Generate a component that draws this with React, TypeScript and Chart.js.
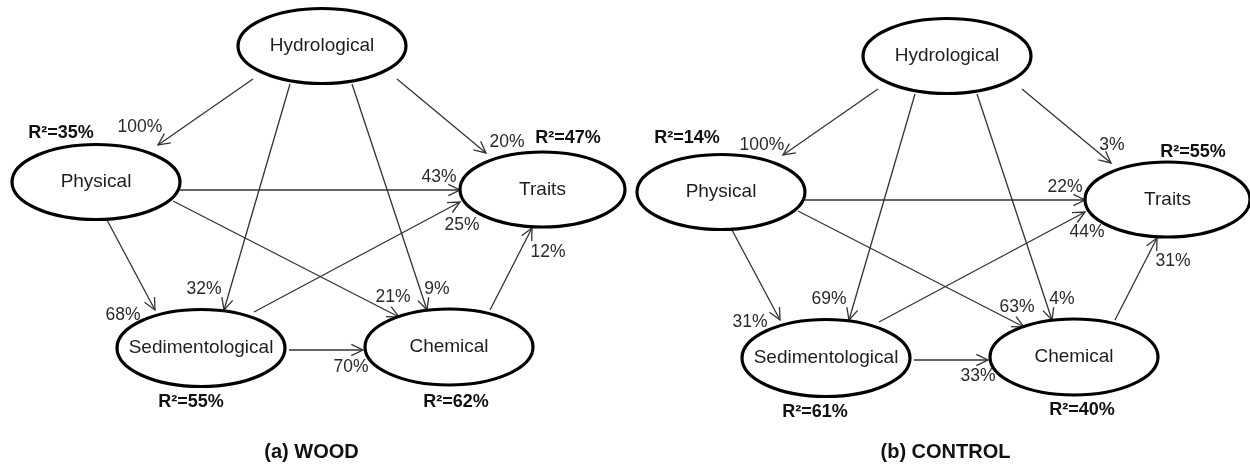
import React, { useEffect, useRef } from 'react';
import { Chart, registerables } from 'chart.js';

Chart.register(...registerables);

// ---------- DATA ----------
const nodeNames = ['Hydrological', 'Physical', 'Traits', 'Sedimentological', 'Chemical'];
const woodR2 = [null, 35, 47, 55, 62];
const controlR2 = [null, 14, 55, 61, 40];
const edgeFrom = ['Hydrological', 'Hydrological', 'Hydrological', 'Hydrological', 'Physical', 'Physical', 'Physical', 'Sedimentological', 'Sedimentological', 'Chemical'];
const edgeTo = ['Physical', 'Sedimentological', 'Chemical', 'Traits', 'Traits', 'Chemical', 'Sedimentological', 'Traits', 'Chemical', 'Traits'];
const woodEffects = [100, 32, 9, 20, 43, 21, 68, 25, 70, 12];
const controlEffects = [100, 69, 4, 3, 22, 63, 31, 44, 33, 31];
const panelTitles = ['(a) WOOD', '(b) CONTROL'];

// ---------- LAYOUT (diagram units) ----------
const nodeCenters = [[322, 46], [96, 182], [542.5, 189.5], [201, 348], [449, 347]];
const nodeRadii = [[84, 37.5], [84, 37.5], [82.5, 37.5], [84, 38.5], [84, 38]];
const edgeStart = [[253, 79], [290, 84], [352, 84], [397, 79], [180, 190], [173, 201], [107, 220], [254, 312], [289, 350], [490, 310]];
const edgeEnd = [[158, 145], [224, 310], [427, 310], [486, 153], [460, 190], [399, 317], [155, 310], [460, 202], [363, 350], [532, 228]];
const panelOffsets = [[0, 0], [625, 10]];
const effectLabelPos = [
  [[140, 127], [204, 289], [437, 289], [507, 142], [439, 177], [393, 297], [123, 315], [462, 225], [351, 367], [548, 252]],
  [[137, 135], [204, 289], [437, 289], [487, 135], [440, 177], [392, 297], [125, 312], [462, 222], [353, 366], [548, 251]],
];
const r2LabelPos = [
  [null, [61, 133], [568, 138], [191, 402], [456, 402]],
  [null, [62, 128], [568, 142], [190, 402], [457, 400]],
];
const titlePos = [[311.5, 452], [320.5, 442]];

const panelEffects = [woodEffects, controlEffects];
const panelR2 = [woodR2, controlR2];

const FONT = '"Liberation Sans", Arial, Helvetica, sans-serif';

const diagramPlugin = {
  id: 'pathDiagram',
  afterDatasetsDraw(chart: any) {
    const { ctx } = chart;
    const xs = chart.scales.x;
    const ys = chart.scales.y;
    const px = (v: number) => xs.getPixelForValue(v);
    const py = (v: number) => ys.getPixelForValue(v);
    ctx.save();
    // arrowheads
    chart.data.datasets.forEach((ds: any, i: number) => {
      if (ds.kind !== 'edge') return;
      const meta = chart.getDatasetMeta(i);
      const p0 = meta.data[0];
      const p1 = meta.data[1];
      const ang = Math.atan2(p1.y - p0.y, p1.x - p0.x);
      const L = 13;
      const a = 0.45;
      ctx.beginPath();
      ctx.moveTo(p1.x - L * Math.cos(ang - a), p1.y - L * Math.sin(ang - a));
      ctx.lineTo(p1.x, p1.y);
      ctx.lineTo(p1.x - L * Math.cos(ang + a), p1.y - L * Math.sin(ang + a));
      ctx.strokeStyle = '#333';
      ctx.lineWidth = 1.3;
      ctx.stroke();
    });
    panelOffsets.forEach((off, p) => {
      // ellipses + node names
      nodeNames.forEach((name, n) => {
        const cx = px(nodeCenters[n][0] + off[0]);
        const cy = py(nodeCenters[n][1] + off[1]);
        const rx = Math.abs(px(nodeCenters[n][0] + off[0] + nodeRadii[n][0]) - cx);
        const ry = Math.abs(py(nodeCenters[n][1] + off[1] + nodeRadii[n][1]) - cy);
        ctx.beginPath();
        ctx.ellipse(cx, cy, rx, ry, 0, 0, Math.PI * 2);
        ctx.strokeStyle = '#000';
        ctx.lineWidth = 3.2;
        ctx.stroke();
        ctx.fillStyle = '#1e1e1e';
        ctx.font = `19px ${FONT}`;
        ctx.textAlign = 'center';
        ctx.textBaseline = 'middle';
        ctx.fillText(name, cx, cy);
      });
      // effect labels
      ctx.fillStyle = '#2a2a2a';
      ctx.font = `17.5px ${FONT}`;
      panelEffects[p].forEach((v, e) => {
        const pos = effectLabelPos[p][e];
        ctx.fillText(`${v}%`, px(pos[0] + off[0]), py(pos[1] + off[1]));
      });
      // R2 labels
      ctx.fillStyle = '#111';
      ctx.font = `bold 18px ${FONT}`;
      panelR2[p].forEach((v, n) => {
        const pos = r2LabelPos[p][n];
        if (v === null || !pos) return;
        ctx.fillText(`R²=${v}%`, px(pos[0] + off[0]), py(pos[1] + off[1]));
      });
      // title
      ctx.font = `bold 20px ${FONT}`;
      ctx.fillText(panelTitles[p], px(titlePos[p][0] + off[0]), py(titlePos[p][1] + off[1]));
    });
    ctx.restore();
  },
};

export default function App() {
  const ref = useRef<HTMLCanvasElement | null>(null);
  useEffect(() => {
    if (!ref.current) return;
    const datasets: any[] = [];
    panelOffsets.forEach((off, p) => {
      edgeFrom.forEach((from, e) => {
        datasets.push({
          kind: 'edge',
          label: `${panelTitles[p]} ${from} → ${edgeTo[e]}`,
          type: 'line',
          data: [
            { x: edgeStart[e][0] + off[0], y: edgeStart[e][1] + off[1] },
            { x: edgeEnd[e][0] + off[0], y: edgeEnd[e][1] + off[1] },
          ],
          borderColor: '#333',
          borderWidth: 1.3,
          pointRadius: 0,
          pointHoverRadius: 0,
          showLine: true,
          fill: false,
          tension: 0,
        });
      });
    });
    const chart = new Chart(ref.current, {
      type: 'scatter',
      data: { datasets },
      options: {
        animation: false,
        responsive: false,
        devicePixelRatio: 1,
        layout: { padding: 0 },
        plugins: { legend: { display: false }, tooltip: { enabled: false }, title: { display: false } },
        events: [],
        scales: {
          x: { type: 'linear', min: 0, max: 1250, display: false },
          y: { type: 'linear', min: 0, max: 468, reverse: true, display: false },
        },
      },
      plugins: [diagramPlugin],
    } as any);
    return () => chart.destroy();
  }, []);
  return (
    <div style={{ position: 'absolute', left: 0, top: 0, width: 1250, height: 468, background: '#fff' }}>
      <canvas ref={ref} width={1250} height={468} style={{ display: 'block' }} />
    </div>
  );
}
